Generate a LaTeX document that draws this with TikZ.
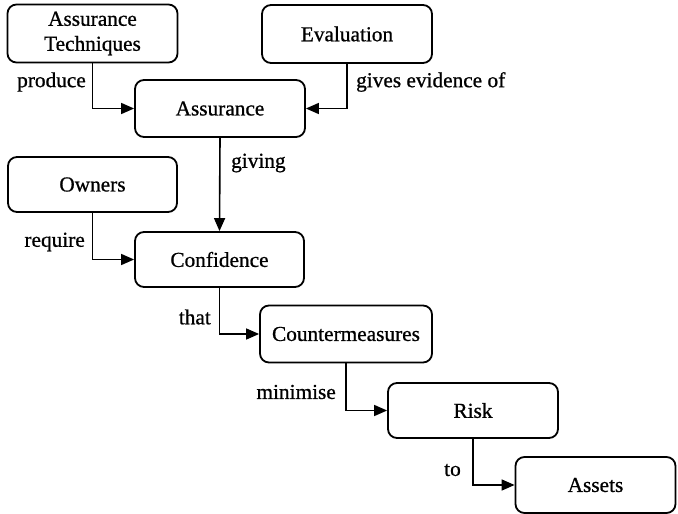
\documentclass[tikz,border=0pt]{standalone}
\usepackage{fontspec}
\setmainfont{Liberation Serif}
\newfontfamily\inkfont{Liberation Serif}[FakeBold=0.8]
\usetikzlibrary{arrows.meta}
\begin{document}
\begin{tikzpicture}[x=1pt,y=-1pt,
  every node/.style={font=\inkfont\fontsize{21.3}{24}\selectfont, inner sep=0pt},
  concept/.style={draw, line width=1.8pt, rounded corners=9pt, align=center},
  link/.style={line width=1.6pt, -{Triangle[length=13pt,width=11pt]}},
  lbl/.style={}]
\useasboundingbox (0,0) rectangle (678,514);
% concept boxes
\node[concept, minimum width=170pt, minimum height=58pt] (tech) at (92.5,33.5) {Assurance\\[1pt]Techniques};
\node[concept, minimum width=170pt, minimum height=58pt] (eval) at (347,34) {Evaluation};
\node[concept, minimum width=170pt, minimum height=57pt] (assur) at (220,108.5) {Assurance};
\node[concept, minimum width=169pt, minimum height=55pt] (own) at (92.5,184.5) {Owners};
\node[concept, minimum width=169pt, minimum height=55pt] (conf) at (219.5,259.5) {Confidence};
\node[concept, minimum width=172pt, minimum height=57pt] (cm) at (346,334) {Countermeasures};
\node[concept, minimum width=170pt, minimum height=55pt] (risk) at (473,410.5) {Risk};
\node[concept, minimum width=160pt, minimum height=56pt] (assets) at (595.5,485) {Assets};
% relations
\draw[link] (tech.south) |- (assur.west);
\draw[link] (eval.south) |- (assur.east);
\draw[link] (assur.south) -- (conf.north);
\draw[link] (own.south) |- (conf.west);
\draw[link] (conf.south) |- (cm.west);
\draw[link] (cm.south) |- (risk.west);
\draw[link] (risk.south) |- (assets.west);
% relation labels
\node[lbl, anchor=east] (lproduce) at (86,82) {produce};
\node[lbl, anchor=west] (lgives) at (356,82) {gives evidence of};
\node[lbl, anchor=west] (lgiving) at (231,163) {giving};
\node[lbl, anchor=east] (lrequire) at (85,242) {require};
\node[lbl, anchor=east] (lthat) at (211,317) {that};
\node[lbl, anchor=east] (lmin) at (336,392) {minimise};
\node[lbl, anchor=east] (lto) at (461,470) {to};
\end{tikzpicture}
\end{document}
